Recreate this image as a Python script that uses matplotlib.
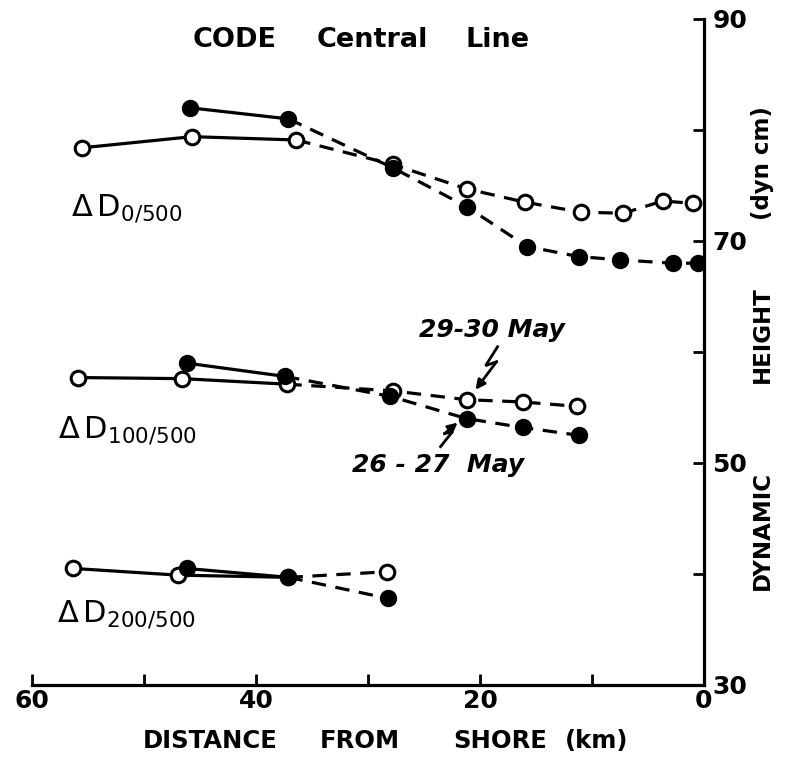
import matplotlib
matplotlib.use("Agg")
import matplotlib.pyplot as plt
import numpy as np

plt.rcParams['font.family'] = ['DejaVu Sans']
plt.rcParams['mathtext.fontset'] = 'dejavusans'

# Distance from shore (km) and dynamic height (dyn cm) along the CODE central line
# open circles: 29-30 May, filled circles: 26-27 May
d0_open_x = [55.5, 45.7, 36.4, 27.8, 21.2, 16.0, 11.0, 7.2, 3.7, 1.0]
d0_open_y = [78.4, 79.4, 79.1, 76.9, 74.7, 73.5, 72.6, 72.5, 73.6, 73.4]
d0_fill_x = [45.9, 37.1, 27.8, 21.2, 15.8, 11.2, 7.5, 2.8, 0.5]
d0_fill_y = [82.0, 81.0, 76.6, 73.1, 69.5, 68.6, 68.3, 68.0, 68.0]

d100_open_x = [55.9, 46.6, 37.2, 27.8, 21.2, 16.2, 11.3]
d100_open_y = [57.7, 57.6, 57.1, 56.5, 55.7, 55.5, 55.1]
d100_fill_x = [46.2, 37.4, 28.0, 21.2, 16.2, 11.2]
d100_fill_y = [59.0, 57.8, 56.0, 54.0, 53.2, 52.5]

d200_open_x = [56.3, 47.0, 37.1, 28.3]
d200_open_y = [40.5, 39.9, 39.7, 40.2]
d200_fill_x = [46.2, 37.1, 28.2]
d200_fill_y = [40.5, 39.7, 37.8]

# number of leading stations joined by a solid line (rest dashed)
open_solid = 3
fill_solid = 2

x_ticks = [60, 50, 40, 30, 20, 10, 0]
x_tick_labels = ['60', '', '40', '', '20', '', '0']
y_ticks = [30, 40, 50, 60, 70, 80, 90]
y_tick_labels = ['30', '', '50', '', '70', '', '90']

layer_labels = [r'$\Delta\,\mathrm{D}_{0/500}$',
                r'$\Delta\,\mathrm{D}_{100/500}$',
                r'$\Delta\,\mathrm{D}_{200/500}$']

W, H = 791, 760
fig = plt.figure(figsize=(W / 100, H / 100), dpi=100)
ax = fig.add_axes([32 / W, (H - 685) / H, 672 / W, 666 / H])
ax.set_xlim(60, 0)
ax.set_ylim(30, 90)

LW = 2.3
DASH = (4.5, 3.0)


def draw_series(x, y, n_solid, filled, z):
    x = np.asarray(x)
    y = np.asarray(y)
    ax.plot(x[:n_solid], y[:n_solid], '-', color='k', lw=LW, zorder=z,
            solid_capstyle='round')
    dl, = ax.plot(x[n_solid - 1:], y[n_solid - 1:], color='k', lw=LW, zorder=z)
    dl.set_dashes(DASH)
    if filled:
        ax.plot(x, y, 'o', ms=11, mfc='k', mec='k', mew=1.5, ls='none', zorder=z + 1)
    else:
        ax.plot(x, y, 'o', ms=10.5, mfc='white', mec='k', mew=2.2, ls='none', zorder=z + 1)


groups = [(d0_open_x, d0_open_y, d0_fill_x, d0_fill_y),
          (d100_open_x, d100_open_y, d100_fill_x, d100_fill_y),
          (d200_open_x, d200_open_y, d200_fill_x, d200_fill_y)]
for ox, oy, fx, fy in groups:
    draw_series(ox, oy, open_solid, False, 2)
    draw_series(fx, fy, fill_solid, True, 4)

# layer labels
label_pos = [(56.5, 72.3), (57.7, 52.3), (57.8, 35.7)]
for (lx, ly), txt in zip(label_pos, layer_labels):
    ax.text(lx, ly, txt, fontsize=22, ha='left', va='baseline')

# axes styling
for side in ('top', 'left'):
    ax.spines[side].set_visible(False)
for side in ('bottom', 'right'):
    ax.spines[side].set_linewidth(2.3)
ax.yaxis.tick_right()
ax.set_xticks(x_ticks)
ax.set_xticklabels(x_tick_labels, fontweight='bold')
ax.set_yticks(y_ticks)
ax.set_yticklabels(y_tick_labels, fontweight='bold')
ax.tick_params(axis='x', direction='in', length=8, width=2, pad=3, labelsize=18)
ax.tick_params(axis='y', direction='in', length=8, width=2, pad=6, labelsize=18)


def bolt(target, offsets_px, lw=2.0):
    disp = ax.transData.transform(target)
    pts = disp + np.asarray(offsets_px, float) * np.array([1.0, -1.0])
    data = ax.transData.inverted().transform(pts)
    ax.plot(data[:-1, 0], data[:-1, 1], color='k', lw=lw, zorder=6,
            solid_joinstyle='miter')
    ax.annotate('', xy=data[-1], xytext=data[-2],
                arrowprops=dict(arrowstyle='-|>', lw=lw, color='k',
                                mutation_scale=14, shrinkA=0, shrinkB=0),
                zorder=6)


# date annotations
ax.text(18.9, 62.0, '29-30 May', fontsize=18, style='italic', fontweight='bold',
        ha='center', va='center')
ax.text(23.7, 49.8, '26 - 27  May', fontsize=18, style='italic', fontweight='bold',
        ha='center', va='center')
bolt((d100_open_x[4], d100_open_y[4]), [(31, -53), (19, -34), (30, -38), (9, -10)])
bolt((d100_fill_x[3], d100_fill_y[3]), [(-26, 28), (-14, 13), (-22, 15), (-9, 4)])

# title and axis titles
for word, cx in [('CODE', 235), ('Central', 372), ('Line', 498)]:
    fig.text(cx / W, 1 - 47 / H, word, fontsize=19.5, fontweight='bold',
             ha='center', va='baseline')
for word, cx in [('DISTANCE', 210), ('FROM', 360), ('SHORE', 500), ('(km)', 597)]:
    fig.text(cx / W, 1 - 748 / H, word, fontsize=17.5, fontweight='bold',
             ha='center', va='baseline')
for word, cy in [('DYNAMIC', 530), ('HEIGHT', 335), ('(dyn cm)', 163)]:
    fig.text(762 / W, 1 - cy / H, word, fontsize=16.5, fontweight='bold', rotation=90,
             ha='center', va='center')

fig.savefig('out.png', dpi=100)
